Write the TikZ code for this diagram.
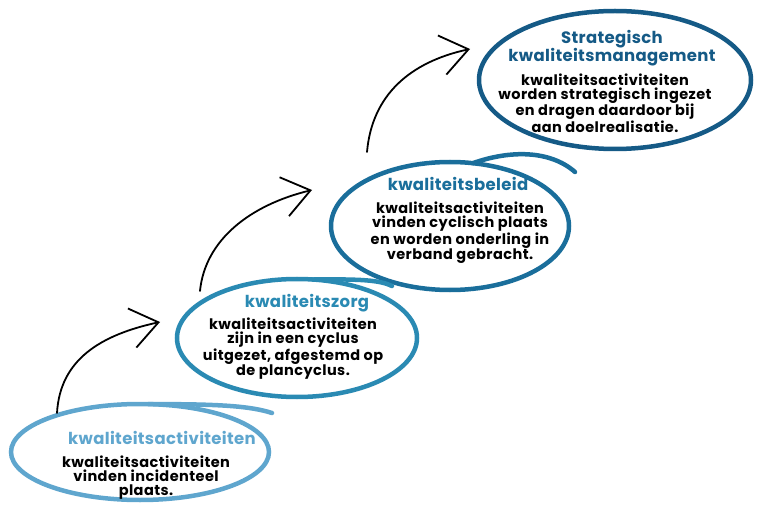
\documentclass[tikz,border=0pt]{standalone}
\usepackage{fontspec}
\setmainfont{Poppins}
\newfontfamily\bodyfont[LetterSpace=3]{Poppins}
\newfontfamily\titlefont[LetterSpace=2]{Poppins}
\usetikzlibrary{shapes.geometric,arrows.meta}
\definecolor{cA}{HTML}{5FA6CE}
\definecolor{cB}{HTML}{2A8AB3}
\definecolor{cC}{HTML}{1A6E9B}
\definecolor{cD}{HTML}{155A86}
\tikzset{
  ring/.style={ellipse, draw, line width=4.5pt, inner sep=0pt, outer sep=0pt},
  tail/.style={line width=4.5pt, line cap=round},
  ttl/.style={font=\titlefont\fontsize{16.5}{18}\selectfont\bfseries, align=center, inner sep=0pt},
  body/.style={font=\bodyfont\fontsize{14.5}{14}\selectfont\bfseries, align=center, inner sep=0pt, text=black},
  arr/.style={line width=1.8pt, line cap=round, -{Straight Barb[length=27pt,width=40pt,line width=1.8pt]}}
}
\begin{document}
\begin{tikzpicture}[x=1pt,y=-1pt]
\useasboundingbox (0,0) rectangle (758,505);
% ellipses
\node[ring, draw=cA, minimum width=258pt, minimum height=96pt] (e1) at (140,452) {};
\node[ring, draw=cB, minimum width=240pt, minimum height=118pt] (e2) at (297,338) {};
\node[ring, draw=cC, minimum width=238pt, minimum height=128pt] (e3) at (450,226) {};
\node[ring, draw=cD, minimum width=272pt, minimum height=138pt] (e4) at (615,80) {};
% tails
\draw[tail, cA] (e1.80) .. controls (220,404) and (250,406) .. (272,413);
\draw[tail, cB] (e2.75) .. controls (360,279) and (380,280) .. (392,286);
\draw[tail, cC] (e3.70) .. controls (510,150) and (550,150) .. (575,172);
% texts
\node[ttl, text=cA] (t1) at (162,438) {kwaliteitsactiviteiten};
\node[body] (b1) at (146,478) {kwaliteitsactiviteiten\\vinden incidenteel\\plaats.};
\node[ttl, text=cB] (t2) at (307,303) {kwaliteitszorg};
\node[body] (b2) at (293,349) {kwaliteitsactiviteiten\\zijn in een cyclus\\uitgezet, afgestemd op\\de plancyclus.};
\node[ttl, text=cC] (t3) at (458,184) {kwaliteitsbeleid};
\node[body] (b3) at (460,233) {kwaliteitsactiviteiten\\vinden cyclisch plaats\\en worden onderling in\\verband gebracht.};
\node[ttl, text=cD] (t4) at (612,48) {Strategisch\\kwaliteitsmanagement};
\node[body] (b4) at (605,103) {kwaliteitsactiviteiten\\worden strategisch ingezet\\en dragen daardoor bij\\aan doelrealisatie.};
% arrows
\coordinate (s1) at (57,413); \coordinate (h1) at (160,322);
\coordinate (s2) at (200,291); \coordinate (h2) at (312,190);
\coordinate (s3) at (367,152); \coordinate (h3) at (470,49);
\draw[arr] (s1) .. controls (60,360) and (100,335) .. (h1);
\draw[arr] (s2) .. controls (205,240) and (250,205) .. (h2);
\draw[arr] (s3) .. controls (372,95) and (410,62) .. (h3);
\end{tikzpicture}
\end{document}
